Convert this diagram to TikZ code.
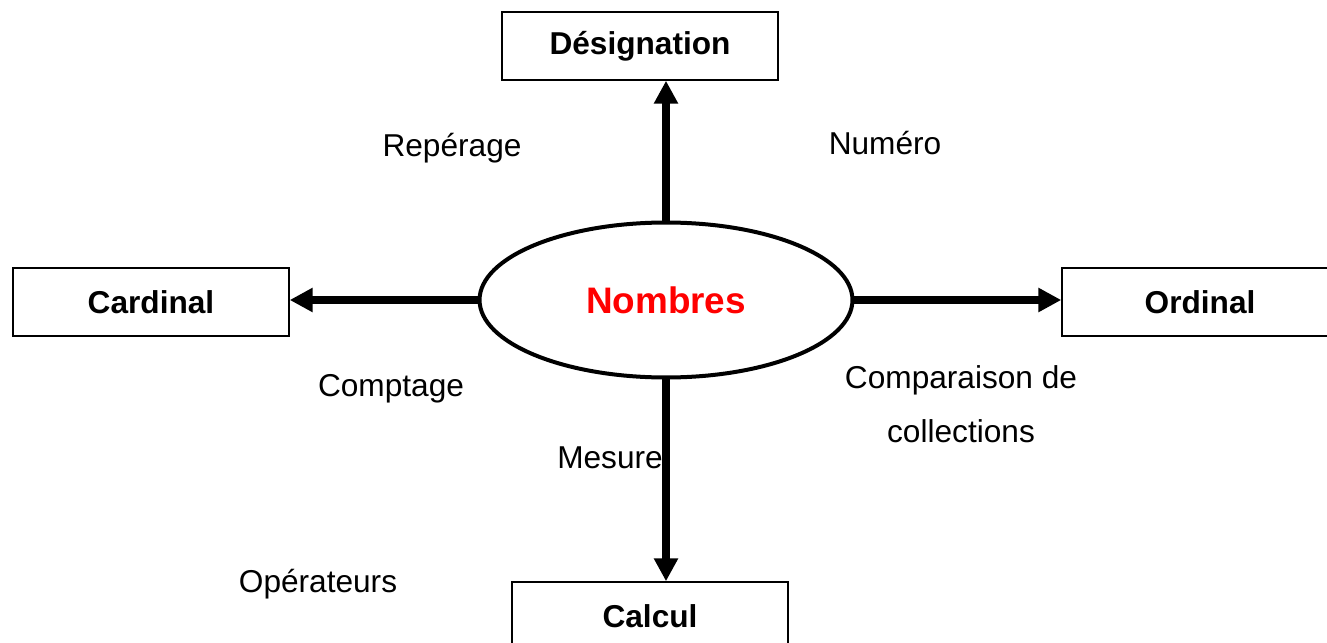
\documentclass[tikz,border=0pt]{standalone}
\usepackage{fontspec}
\setmainfont{Liberation Sans}
\usepackage{tikz}
\usetikzlibrary{arrows.meta,shapes.geometric}
\definecolor{nbred}{RGB}{255,0,0}

\begin{document}
\begin{tikzpicture}[x=0.02cm, y=-0.02cm,
		box/.style={draw, line width=0.3mm, minimum width=5.52cm, minimum height=1.36cm, font=\fontsize{18}{22}\selectfont\bfseries},
		lbl/.style={font=\fontsize{18}{31}\selectfont, align=center},
		fleche/.style={line width=4pt, -{Triangle[length=0.46cm, width=0.46cm]}}]
		%%%%% START %%%%%
		
		\useasboundingbox (0, 0) rectangle (1327, 642);
		
		\node[ellipse, draw, line width=0.8mm, minimum width=7.46cm, minimum height=3.1cm, text=nbred, font=\fontsize{21}{25}\selectfont\bfseries] (nombres) at (666, 300) {Nombres};
		
		\node[box] (designation) at (640, 46) {Désignation};
		\node[box] (cardinal) at (151, 302) {Cardinal};
		\node[box] (ordinal) at (1200, 302) {Ordinal};
		\node[box] (calcul) at (650, 616) {Calcul};
		
		\draw[fleche] (nombres.north) -- (nombres.north |- designation.south);
		\draw[fleche] (nombres.west) -- (cardinal.east |- nombres.west);
		\draw[fleche] (nombres.east) -- (ordinal.west |- nombres.east);
		\draw[fleche] (nombres.south) -- (nombres.south |- calcul.north);
		
		\node[lbl] (reperage) at (452, 148) {Repérage};
		\node[lbl] (numero) at (885, 143) {Numéro};
		\node[lbl] (comptage) at (391, 389) {Comptage};
		\node[lbl] (comparaison) at (961, 404) {Comparaison de\\collections};
		\node[lbl] (mesure) at (610, 458) {Mesure};
		\node[lbl] (operateurs) at (318, 584) {Opérateurs};
		
		%%%%% END %%%%%
\end{tikzpicture}
\end{document}
